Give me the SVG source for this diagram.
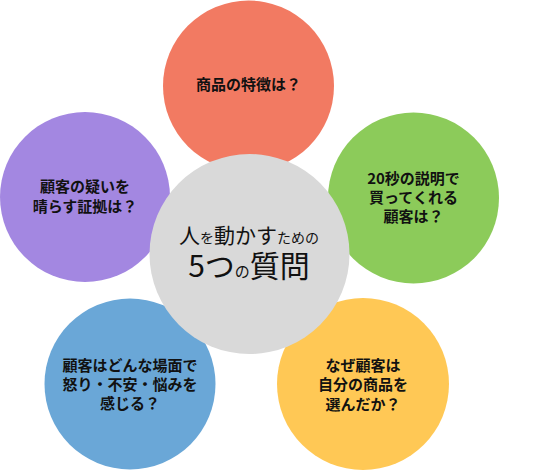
<svg xmlns="http://www.w3.org/2000/svg" width="560" height="470" viewBox="0 0 560 470">
<style>
.lbl{font-family:"Noto Sans CJK JP","Noto Sans",sans-serif;font-size:15px;font-weight:bold;fill:#111;text-anchor:middle}
.ctr{font-family:"Noto Sans CJK JP","Noto Sans",sans-serif;fill:#111;text-anchor:middle}
</style>
<rect width="560" height="470" fill="#fff"/>
<g id="connectors"></g>
<g id="n-red"><circle cx="248.5" cy="86" r="85.5" fill="#F27A62"/>
<text class="lbl" x="248.5" y="90">商品の特徴は？</text></g>
<g id="n-purple"><circle cx="85" cy="197" r="85" fill="#A387E1"/>
<text class="lbl" x="85" y="192">顧客の疑いを</text>
<text class="lbl" x="85" y="212">晴らす証拠は？</text></g>
<g id="n-green"><circle cx="413.5" cy="198" r="85.5" fill="#8CCB5A"/>
<text class="lbl" x="413.5" y="184">20秒の説明で</text>
<text class="lbl" x="413.5" y="203">買ってくれる</text>
<text class="lbl" x="413.5" y="222">顧客は？</text></g>
<g id="n-blue"><circle cx="130" cy="384" r="85.5" fill="#6AA7D7"/>
<text class="lbl" x="130" y="371">顧客はどんな場面で</text>
<text class="lbl" x="130" y="390">怒り・不安・悩みを</text>
<text class="lbl" x="130" y="409">感じる？</text></g>
<g id="n-yellow"><circle cx="363" cy="384" r="86" fill="#FFC855"/>
<text class="lbl" x="363" y="371">なぜ顧客は</text>
<text class="lbl" x="363" y="390">自分の商品を</text>
<text class="lbl" x="363" y="410">選んだか？</text></g>
<g id="n-center"><circle cx="249.5" cy="254" r="100" fill="#D9D9D9"/>
<text class="ctr" x="249" y="243"><tspan font-size="21">人</tspan><tspan font-size="14">を</tspan><tspan font-size="21">動かす</tspan><tspan font-size="14">ための</tspan></text>
<text class="ctr" x="249" y="277"><tspan font-size="30">5つ</tspan><tspan font-size="15">の</tspan><tspan font-size="30">質問</tspan></text></g>
</svg>
